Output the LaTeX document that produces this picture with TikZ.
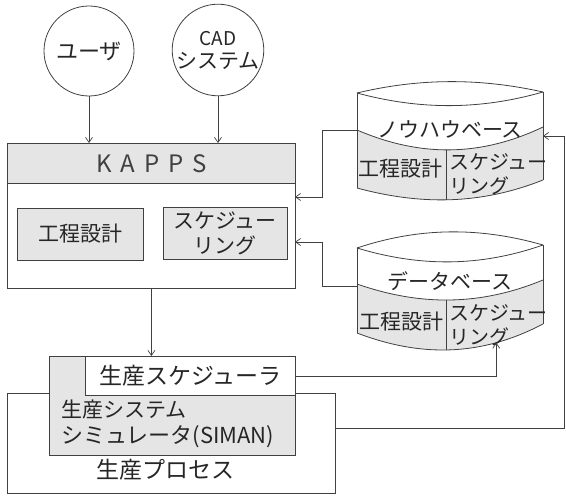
\documentclass[tikz,border=0pt]{standalone}
\usepackage{fontspec}
\setmainfont{Noto Sans CJK JP}
\usetikzlibrary{arrows.meta}
\begin{document}
\begin{tikzpicture}[x=1pt,y=-1pt,
  line/.style={draw=black!75, line width=0.8pt},
  arr/.style={draw=black!75, line width=0.7pt, -{Straight Barb[length=5pt,width=7pt]}},
  shadefill/.style={fill=black!10},
  txt/.style={font=\fontsize{21}{25}\selectfont, inner sep=0pt, text=black!85},
  bigtxt/.style={font=\fontsize{23}{26}\selectfont, inner sep=0pt, text=black!85},
  ]
\useasboundingbox (0,0) rectangle (566,497);

% circles
\node[line, circle, minimum size=90pt, txt, font=\fontsize{22}{24}\selectfont] (user) at (89,51) {ユーザ};
\node[line, circle, minimum size=90pt, txt, align=center] (cad) at (218,50) {{\fontsize{19}{20}\selectfont CAD}\\[-2pt]システム};

% KAPPS
\node[line, shadefill, minimum width=288pt, minimum height=40pt, anchor=north west, inner sep=0pt] (kappshead) at (7,143) {};
\node[line, minimum width=288pt, minimum height=105pt, anchor=north west, inner sep=0pt] (kappsbody) at (7,183) {};
\node[inner sep=0pt, text=black!75, font=\fontsize{24}{26}\selectfont] (kappst) at (kappshead.center) {K\hspace{9pt}A\hspace{9pt}P\hspace{9pt}P\hspace{9pt}S};
\node[line, shadefill, minimum width=126pt, minimum height=52pt, txt] (kk) at (80,234) {工程設計};
\node[line, shadefill, minimum width=124pt, minimum height=52pt, txt, align=center] (ks) at (225,233) {スケジュー\\リング};

\draw[arr] (user.south) -- (user.south |- kappshead.north);
\draw[arr] (cad.south) -- (cad.south |- kappshead.north);

% production process
\node[line, minimum width=328pt, minimum height=100pt, anchor=north west, inner sep=0pt] (proc) at (7,393) {};
\node[line, shadefill, minimum width=246pt, minimum height=99pt, anchor=north west, inner sep=0pt] (sim) at (49,356) {};
\node[line, fill=white, minimum width=210pt, minimum height=39pt, anchor=north west, inner sep=0pt] (sched) at (85,356) {};
\node[bigtxt] (schedt) at (sched.center) {生産スケジューラ};
\node[txt, anchor=west] (simt1) at (61,410) {生産システム};
\node[txt, anchor=west, font=\fontsize{22}{25}\selectfont] (simt2) at (61,437) {シミュレータ(SIMAN)};
\node[bigtxt] (proct) at (165,470) {生産プロセス};

\draw[arr] (kappsbody.south) -- (kappsbody.south |- sched.north);

% know-how base cylinder
\fill[shadefill] (357,130) .. controls (420,157) and (480,157) .. (543,127) -- (543,180)
  .. controls (480,205) and (420,205) .. (357,188) -- cycle;
\draw[line] (357,93) .. controls (420,78) and (480,78) .. (543,92);
\draw[line] (357,93) .. controls (420,110) and (480,110) .. (543,92);
\draw[line] (357,130) .. controls (420,157) and (480,157) .. coordinate[pos=0.48] (nhd1) (543,127);
\draw[line] (357,188) .. controls (420,205) and (480,205) .. coordinate[pos=0.48] (nhd2) (543,180);
\draw[line] (357,93) -- (357,188);
\draw[line] (543,92) -- (543,180);
\draw[line] (nhd1) -- (nhd2);
\node[txt] (nht) at (450,129) {ノウハウベース};
\node[txt] (nhk) at (400,169) {工程設計};
\node[txt, anchor=west, align=left, font=\fontsize{20}{24}\selectfont] (nhs) at (449,174) {スケジュー\\リング};

% database cylinder
\fill[shadefill] (357,284) .. controls (420,306) and (480,306) .. (543,280) -- (543,324)
  .. controls (480,357) and (420,357) .. (357,333) -- cycle;
\draw[line] (357,248) .. controls (420,227) and (480,227) .. (543,245);
\draw[line] (357,248) .. controls (420,267) and (480,267) .. (543,245);
\draw[line] (357,284) .. controls (420,306) and (480,306) .. coordinate[pos=0.48] (dbd1) (543,280);
\draw[line] (357,333) .. controls (420,357) and (480,357) .. coordinate[pos=0.48] (dbd2) coordinate[pos=0.75] (dbs) (543,324);
\draw[line] (357,248) -- (357,333);
\draw[line] (543,245) -- (543,324);
\draw[line] (dbd1) -- (dbd2);
\node[txt] (dbt) at (450,281) {データベース};
\node[txt] (dbk) at (401,322) {工程設計};
\node[txt, anchor=west, align=left, font=\fontsize{20}{24}\selectfont] (dbs2) at (449,325) {スケジュー\\リング};

% connectors
\coordinate (nhw) at (357,130);
\coordinate (kin1) at (295,197);
\coordinate (dbw) at (357,286);
\coordinate (kin2) at (295,242);
\coordinate (procr) at (335,428);
\coordinate (nhe) at (543,136);
\draw[arr] (nhw) -- (322,130) |- (kin1);
\draw[arr] (dbw) -- (322,286) |- (kin2);
\draw[arr] (sched.east) -| (dbs);
\draw[arr] (procr) -- (564,428) |- (nhe);
\end{tikzpicture}
\end{document}
